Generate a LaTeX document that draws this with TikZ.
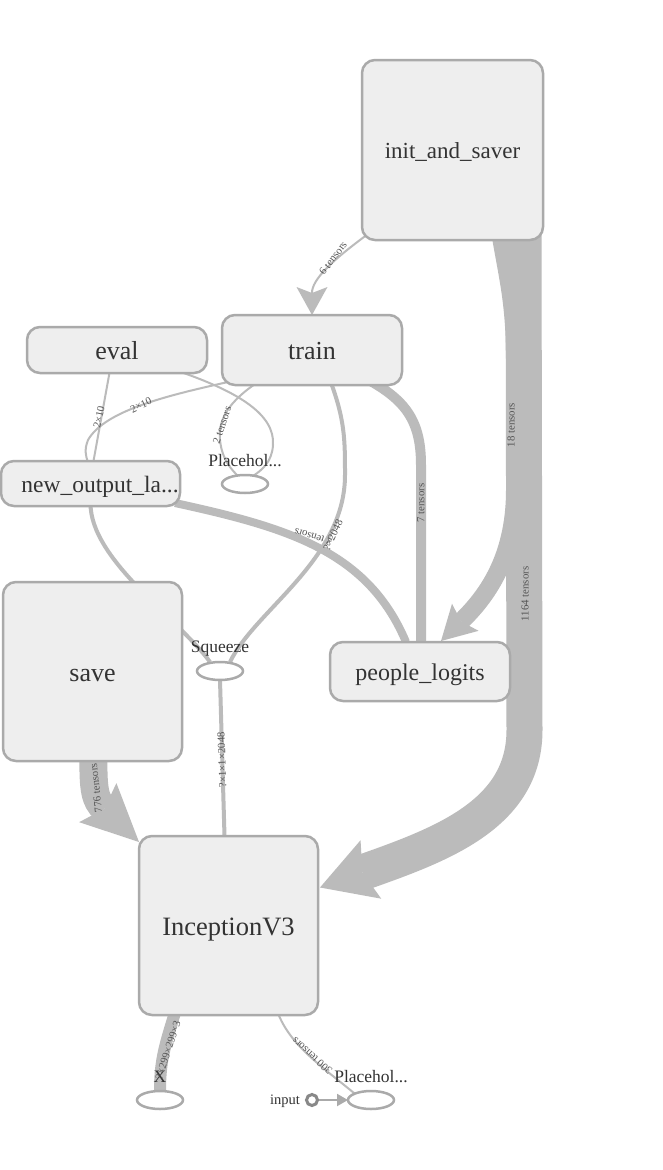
\documentclass[tikz,border=0pt]{standalone}
\usepackage{fontspec}
\setmainfont{Liberation Serif}
\usetikzlibrary{arrows.meta,shapes.geometric,calc,backgrounds}
\definecolor{nfill}{HTML}{EEEEEE}
\definecolor{nstroke}{HTML}{AAAAAA}
\definecolor{edgec}{HTML}{BBBBBB}
\definecolor{txtc}{HTML}{333333}
\definecolor{elab}{HTML}{555555}
\definecolor{inc}{HTML}{888888}
\newcommand\myfs[1]{\fontsize{#1}{#1}\selectfont}
\pgfdeclarelayer{edges}
\pgfsetlayers{background,edges,main}
\begin{document}
\begin{tikzpicture}[x=1pt,y=-1pt,
 box/.style={draw=nstroke, fill=nfill, line width=2.5pt, rounded corners=13pt, text=txtc, inner sep=0pt, outer sep=0pt},
 opnode/.style={ellipse, draw=nstroke, fill=white, line width=2.5pt, minimum width=46pt, minimum height=18pt, inner sep=0pt, outer sep=0pt},
 oplabel/.style={text=txtc, font=\myfs{17.5}, inner sep=0pt},
 edge/.style={draw=edgec, line cap=butt},
 elabel/.style={text=elab, font=\myfs{10.8}, inner sep=0pt},
]
\useasboundingbox (0,0) rectangle (662,1170);
\begin{pgfonlayer}{background}
\fill[white] (0,0) rectangle (662,1170);
\end{pgfonlayer}

% meta nodes
\node[box, minimum width=181pt, minimum height=180pt, font=\myfs{23}, text height=22.5pt, text depth=5.1pt] (init) at (452.5,150) {init\_and\_saver};
\node[box, minimum width=180pt, minimum height=70pt, font=\myfs{26}, text height=25.5pt, text depth=5.7pt] (train) at (312,350) {train};
\node[box, minimum width=180pt, minimum height=46pt, font=\myfs{26}, text height=25.5pt, text depth=5.7pt] (eval) at (117,350) {eval};
\node[box, minimum width=179pt, minimum height=45pt, font=\myfs{23.5}, text height=23pt, text depth=5.2pt] (newout) at (90.5,483.5) {\hspace*{19pt}new\_output\_la...};
\node[box, minimum width=179pt, minimum height=179pt, font=\myfs{26}, text height=25.5pt, text depth=5.7pt] (save) at (92.5,671.5) {save};
\node[box, minimum width=180pt, minimum height=59pt, font=\myfs{24}, text height=23.5pt, text depth=5.3pt] (people) at (420,671.5) {people\_logits};
\node[box, minimum width=179pt, minimum height=179pt, font=\myfs{26.5}, text height=26pt, text depth=5.8pt] (incep) at (228.5,925.5) {InceptionV3};

% op nodes
\node[opnode] (ph1) at (245,484) {};
\node[opnode] (sq) at (220,671) {};
\node[opnode] (xn) at (160,1100) {};
\node[opnode] (ph2) at (371,1100) {};
\node[circle, draw=inc, fill=white, line width=3pt, minimum size=11pt, inner sep=0pt, outer sep=0pt] (inp) at (312,1100) {};

% edges
\begin{pgfonlayer}{edges}
\draw[edge, line width=36pt, -{Stealth[length=54pt,width=62pt,inset=9pt,line width=0pt]}]
  ($(init.south)+(71,-12)$) -- (524.5,730) .. controls (524.5,815) and (440,845) .. ($(incep.east)+(2,-38)$);
\draw[edge, line width=18pt, -{Stealth[length=34pt,width=38pt,inset=6pt,line width=0pt]}]
  ($(init.south)+(47,-12)$) .. controls (507,275) and (515,300) .. (515,360) -- (515,490) .. controls (515,560) and (485,598) .. ($(people.north)+(21,-1)$);
\draw[edge, line width=2pt, -{Stealth[length=28pt,width=31pt,inset=6pt,line width=0pt]}]
  ($(init.south west)+(6,-6)$) .. controls (330,262) and (312,280) .. (train.north);
\draw[edge, line width=10pt]
  ($(train.south)+(55,-6)$) .. controls (405,400) and (421,420) .. (421,465) -- ($(people.north)+(1,0)$);
\draw[edge, line width=4pt]
  ($(train.south)+(18,-5)$) .. controls (345,420) and (345,440) .. (345,475) .. controls (345,560) and (255,610) .. ($(sq.north)+(10,0)$);
\draw[edge, line width=2pt]
  ($(train.south west)+(36,-3)$) .. controls (228,402) and (218,420) .. (220,440) .. controls (222,460) and (232,470) .. ($(ph1.north)+(-7,1)$);
\draw[edge, line width=2pt]
  ($(eval.south)+(58,-3)$) .. controls (240,392) and (275,415) .. (273,445) .. controls (272,462) and (262,470) .. ($(ph1.north)+(8,1)$);
\draw[edge, line width=2pt]
  ($(eval.south)+(-7,-3)$) -- ($(newout.north)+(3,0)$);
\draw[edge, line width=2pt]
  ($(train.south west)+(6,-3)$) .. controls (170,395) and (105,410) .. (88,440) .. controls (84,450) and (86,456) .. ($(newout.north)+(-3,0)$);
\draw[edge, line width=4pt]
  ($(newout.south)+(0,-3)$) .. controls (90,560) and (180,620) .. ($(sq.north)+(-10,0)$);
\draw[edge, line width=8pt]
  ($(newout.south east)+(-5,-3)$) .. controls (290,528) and (368,552) .. ($(people.north)+(-14,0)$);
\draw[edge, line width=4pt]
  (sq.south) -- ($(incep.north)+(-4,0)$);
\draw[edge, line width=28pt, -{Stealth[length=57pt,width=54pt,inset=9pt,line width=0pt]}]
  ($(save.south)+(1,-5)$) .. controls (93,790) and (95,800) .. ($(incep.north west)+(0,6)$);
\draw[edge, line width=12pt]
  ($(incep.south)+(-53,-4)$) .. controls (165,1045) and (160,1060) .. (xn.north);
\draw[edge, line width=2pt]
  ($(incep.south)+(49,-3)$) .. controls (290,1045) and (320,1065) .. (ph2.north west);
\draw[draw=nstroke, line width=2pt, -{Triangle[length=11pt,width=12pt]}]
  (inp.east) -- (ph2.west);
\end{pgfonlayer}

% op labels
\node[oplabel] (ph1l) at (245,461) {Placehol...};
\node[oplabel] (sql) at (220,649) {Squeeze};
\node[oplabel] (xl) at (160,1077) {X};
\node[oplabel] (ph2l) at (371,1077) {Placehol...};
\node[oplabel, font=\myfs{14.5}] (inpl) at (285,1101) {input};

% edge labels
\node[elabel, rotate=53] (l1) at (333,258) {6 tensors};
\node[elabel, rotate=90] (l2) at (511,425) {18 tensors};
\node[elabel, rotate=90] (l3) at (525,594) {1164 tensors};
\node[elabel, rotate=90] (l4) at (421,503) {7 tensors};
\node[elabel, rotate=65] (l5) at (333,535) {?×2048};
\node[elabel, rotate=72] (l6) at (222,425) {2 tensors};
\node[elabel, rotate=78] (l7) at (99,417) {2×10};
\node[elabel, rotate=26] (l8) at (141,405) {2×10};
\node[elabel, rotate=163] (l9) at (313,537) {2 tensors};
\node[elabel, rotate=92] (l10) at (222,760) {?×1×1×2048};
\node[elabel, rotate=96] (l11) at (96,788) {776 tensors};
\node[elabel, rotate=72] (l12) at (168,1050) {?×299×299×3};
\node[elabel, rotate=139] (l13) at (312,1056) {300 tensors};
\end{tikzpicture}
\end{document}
